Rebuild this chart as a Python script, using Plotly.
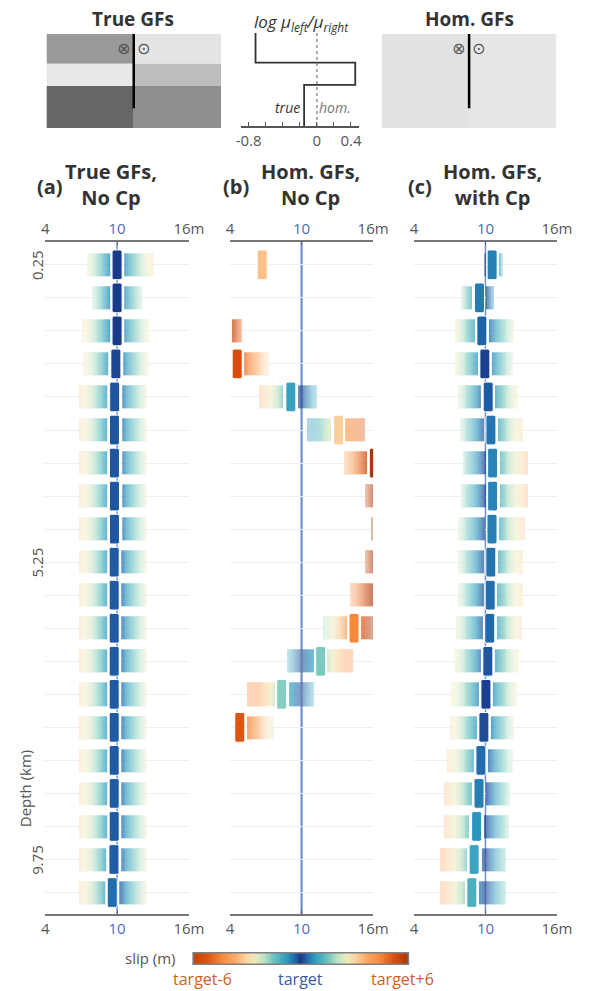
import numpy as np
import plotly.graph_objects as go

W, H = 591, 991
def px(x): return x / W
def py(y): return 1 - y / H

FONT = "Open Sans"
target = 10.0
n_rows = 20
rows = list(range(n_rows))
depth_tick_rows = [0, 9, 18]
depth_tick_text = ["0.25", "5.25", "9.75"]
x_tick_vals = [4, 10, 16]
x_tick_text = ["4", "<span style='color:#4a6cc0'>10</span>", "16m"]

# ---- panel (a) True GFs, No Cp : bar centre, outer box edges (m)
a_center = [10.0, 10.0, 10.0, 9.9, 9.8, 9.78, 9.78, 9.78, 9.78, 9.76,
            9.76, 9.76, 9.76, 9.76, 9.76, 9.76, 9.76, 9.76, 9.74, 9.6]
a_low = [7.49, 7.9, 7.16, 7.22, 6.85, 6.85, 6.85, 6.85, 6.85, 6.85,
         6.85, 6.85, 6.85, 6.85, 6.85, 6.85, 6.85, 6.85, 6.85, 6.85]
a_high = [13.0, 12.05, 12.72, 12.58, 12.4, 12.4, 12.4, 12.4, 12.4, 12.4,
          12.4, 12.4, 12.4, 12.4, 12.4, 12.4, 12.4, 12.4, 12.4, 12.4]

# ---- panel (b) Hom. GFs, No Cp
b_center = [6.7, None, 3.6, 4.6, 9.1, 13.1, 16.1, 17.0, 17.5, 17.0,
            17.0, 14.4, 11.6, 8.33, 4.82, None, None, None, None, None]
b_low = [None, None, None, None, 6.4, 10.46, 13.5, 15.4, 15.85, 15.4,
         14.1, 11.8, 8.8, 5.45, None, None, None, None, None, None]
b_high = [None, None, 5.0, 7.3, 11.3, 15.3, None, None, None, None,
          None, 16.3, 14.3, 11.0, 7.7, None, None, None, None, None]

# ---- panel (c) Hom. GFs, with Cp
c_center = [10.56, 9.5, 9.7, 9.95, 10.23, 10.46, 10.6, 10.6, 10.55, 10.45,
            10.4, 10.36, 10.2, 10.04, 9.87, 9.62, 9.46, 9.26, 9.05, 8.86]
c_low = [9.85, 7.9, 7.45, 7.48, 7.72, 7.88, 8.05, 7.9, 7.7, 7.7,
         7.7, 7.55, 7.4, 7.15, 7.07, 6.83, 6.5, 6.5, 6.2, 6.2]
c_high = [11.4, 10.7, 12.36, 12.33, 12.74, 13.14, 13.63, 13.6, 13.3, 13.1,
          13.1, 13.06, 12.8, 12.65, 12.4, 12.33, 12.1, 12.0, 11.7, 11.7]

# ---- top schematics
layer_top = [0, 4, 7]
layer_bot = [4, 7, 12.67]
fault_depth = 10
true_left_gray = ["#9a9a9a", "#e8e8e8", "#666666"]
true_right_gray = ["#e4e4e4", "#bdbdbd", "#8e8e8e"]
hom_gray = ["#e2e2e2", "#e6e6e6"]
log_ratio = [-0.72, 0.45, -0.15]
profile_ticks = [-0.8, 0, 0.4]
profile_ticktext = ["-0.8", "0", "0.4"]

# ---- colour scale (slip - target, m)
CS = [[0.0, "#c4420a"], [0.0667, "#dc5410"], [0.1333, "#f68a3c"], [0.2, "#fcac6c"],
      [0.2417, "#fcd09c"], [0.2833, "#eeecbc"], [0.3333, "#b8e0c4"], [0.375, "#6cc4bc"],
      [0.4333, "#2e9cc0"], [0.475, "#2062a8"], [0.5, "#1a3a8a"], [0.525, "#2062a8"],
      [0.5667, "#2e9cc0"], [0.625, "#6cc4bc"], [0.6667, "#b8e0c4"], [0.7167, "#eeecbc"],
      [0.7583, "#fcd09c"], [0.8, "#fcac6c"], [0.8667, "#f68a3c"], [0.9333, "#d85010"],
      [1.0, "#a8380a"]]
FADE = [[0, "rgba(255,255,255,0)"], [1, "rgba(255,255,255,0.55)"]]

xs = np.round(np.arange(4.04, 16.0, 0.08), 3)
GAP = 0.6
HALF = 0.42


def box_grids(center, low, high):
    zc, zf = [], []
    for c, lo, hi in zip(center, low, high):
        rc, rf = [], []
        for x in xs:
            v = None
            f = None
            if c is not None:
                if lo is not None and lo <= x <= c - GAP:
                    v = float(x - target)
                    f = float((c - GAP - x) / max(c - GAP - lo, 1e-6))
                elif hi is not None and c + GAP <= x <= hi:
                    v = float(x - target)
                    f = float((x - c - GAP) / max(hi - c - GAP, 1e-6))
            rc.append(v)
            rf.append(f)
        zc.append(rc)
        zf.append(rf)
    return zc, zf


fig = go.Figure()

panels = [
    (a_center, a_low, a_high, "x", "y", "x7", 41.7, 190.7, 1.5),
    (b_center, b_low, b_high, "x2", "y2", "x8", 233.3, 381.7, 2.2),
    (c_center, c_low, c_high, "x3", "y3", "x9", 424.0, 572.3, 1.5),
]

layout_axes = {}
shapes = []
for k, (cen, lo, hi, xa, ya, xtop, xl, xr, lw) in enumerate(panels):
    zc, zf = box_grids(cen, lo, hi)
    fig.add_trace(go.Heatmap(x=xs, y=rows, z=zc, colorscale=CS, zmin=-6, zmax=6,
                             showscale=False, opacity=0.72, ygap=10,
                             xaxis=xa, yaxis=ya, hoverinfo="skip"))
    fig.add_trace(go.Heatmap(x=xs, y=rows, z=zf, colorscale=FADE, zmin=0, zmax=1,
                             showscale=False, ygap=10,
                             xaxis=xa, yaxis=ya, hoverinfo="skip"))
    bi = [i for i, c in enumerate(cen) if c is not None]
    fig.add_trace(go.Bar(orientation="h", y=bi, x=[2 * HALF] * len(bi),
                         base=[cen[i] - HALF for i in bi], width=0.9,
                         marker=dict(color=[cen[i] - target for i in bi], colorscale=CS,
                                     cmin=-6, cmax=6, line=dict(color="white", width=1),
                                     cornerradius=2),
                         xaxis=xa, yaxis=ya, hoverinfo="skip"))
    fig.add_trace(go.Scatter(x=[10], y=[0], mode="markers", marker=dict(opacity=0),
                             xaxis=xtop, yaxis=ya, hoverinfo="skip"))
    dom = [px(xl), px(xr)]
    xbase = dict(domain=dom, range=[4, 16], tickvals=x_tick_vals, ticktext=x_tick_text,
                 ticks="inside", ticklen=4, tickwidth=1.2, tickcolor="#666",
                 showline=True, linecolor="#777", linewidth=1.5, showgrid=False,
                 zeroline=False, tickfont=dict(family=FONT, size=15, color="#555"),
                 fixedrange=True)
    n = "" if k == 0 else str(k + 1)
    layout_axes["xaxis" + n] = dict(xbase, anchor=ya, side="bottom")
    layout_axes["xaxis" + xtop[1:]] = dict(xbase, anchor=ya, side="top", overlaying=xa)
    layout_axes["yaxis" + n] = dict(domain=[py(914), py(241.7)], range=[19.65, -0.7],
                                    anchor=xa, tickvals=rows, showticklabels=False,
                                    showgrid=True, gridcolor="#eceef6", gridwidth=1,
                                    zeroline=False, ticks="", showline=False,
                                    fixedrange=True)
    shapes.append(dict(type="line", xref=xa, yref=ya, x0=10, x1=10, y0=-0.7, y1=19.65,
                       line=dict(color="#6e8ed0", width=lw), layer="below"))

# ---- top: true GFs block
for t, b, gl, gr in zip(layer_top, layer_bot, true_left_gray, true_right_gray):
    shapes.append(dict(type="rect", xref="x4", yref="y4", x0=-1, x1=0, y0=t, y1=b,
                       fillcolor=gl, line=dict(width=0), layer="below"))
    shapes.append(dict(type="rect", xref="x4", yref="y4", x0=0, x1=1, y0=t, y1=b,
                       fillcolor=gr, line=dict(width=0), layer="below"))
shapes.append(dict(type="line", xref="x4", yref="y4", x0=0, x1=0, y0=0, y1=fault_depth,
                   line=dict(color="black", width=2.5)))
# hom block
shapes.append(dict(type="rect", xref="x6", yref="y6", x0=-1, x1=0, y0=0, y1=layer_bot[-1],
                   fillcolor=hom_gray[0], line=dict(width=0), layer="below"))
shapes.append(dict(type="rect", xref="x6", yref="y6", x0=0, x1=1, y0=0, y1=layer_bot[-1],
                   fillcolor=hom_gray[1], line=dict(width=0), layer="below"))
shapes.append(dict(type="line", xref="x6", yref="y6", x0=0, x1=0, y0=0, y1=fault_depth,
                   line=dict(color="black", width=2.5)))

# profile
prof_x, prof_y = [], []
for t, b, r in zip(layer_top, layer_bot, log_ratio):
    prof_x += [r, r]
    prof_y += [t, min(b, 12.53)]
fig.add_trace(go.Scatter(x=prof_x, y=prof_y, mode="lines", line=dict(color="#333", width=1.8),
                         xaxis="x5", yaxis="y5", hoverinfo="skip"))
fig.add_trace(go.Scatter(x=[0, 0], y=[0, 12.53], mode="lines",
                         line=dict(color="#888", width=1.4, dash="3px,3px"),
                         xaxis="x5", yaxis="y5", hoverinfo="skip"))
for ax in ["4", "6"]:
    fig.add_trace(go.Scatter(x=[0], y=[0], mode="markers", marker=dict(opacity=0),
                             xaxis="x" + ax, yaxis="y" + ax, hoverinfo="skip"))

hidden = dict(visible=False, fixedrange=True)
layout_axes["xaxis4"] = dict(hidden, domain=[px(43), px(224)], range=[-1, 1], anchor="y4")
layout_axes["yaxis4"] = dict(hidden, domain=[py(128), py(34)], range=[12.67, 0], anchor="x4")
layout_axes["xaxis6"] = dict(hidden, domain=[px(390.7), px(571.7)], range=[-1, 1], anchor="y6")
layout_axes["yaxis6"] = dict(hidden, domain=[py(128), py(34)], range=[12.67, 0], anchor="x6")
layout_axes["xaxis5"] = dict(domain=[px(245), px(366.7)], range=[-0.887, 0.49], anchor="y5",
                             tickvals=profile_ticks, ticktext=profile_ticktext,
                             ticks="inside", ticklen=4, tickcolor="#555", tickwidth=1.2,
                             minor=dict(tick0=0, dtick=0.2, ticks="inside", ticklen=4,
                                        tickcolor="#555", tickwidth=1.2, showgrid=False),
                             showline=True, linecolor="#555", linewidth=1.5,
                             showgrid=False, zeroline=False, fixedrange=True,
                             tickfont=dict(family=FONT, size=15, color="#555"))
layout_axes["yaxis5"] = dict(hidden, domain=[py(126), py(33)], range=[12.53, 0], anchor="x5")

# ---- colour bar
cb_x = np.linspace(-6, 6, 241)
fig.add_trace(go.Heatmap(x=cb_x, y=[0], z=[list(cb_x)], colorscale=CS, zmin=-6, zmax=6,
                         showscale=False, xaxis="x10", yaxis="y10", hoverinfo="skip"))
layout_axes["xaxis10"] = dict(hidden, domain=[px(195), px(418.3)], range=[-6, 6], anchor="y10")
layout_axes["yaxis10"] = dict(hidden, domain=[py(964.3), py(952.7)], range=[-0.5, 0.5], anchor="x10")
shapes.append(dict(type="rect", xref="paper", yref="paper", x0=px(195), x1=px(418.3),
                   y0=py(964.3), y1=py(952.7), line=dict(color="#808080", width=1.5)))
shapes.append(dict(type="line", xref="x10", yref="paper", x0=0, x1=0, y0=py(963.5), y1=py(958),
                   line=dict(color="#333", width=1)))

# ---- annotations
ann = []
def A(text, x, y, size=15, color="#555", xanchor="center", yanchor="middle", **kw):
    ann.append(dict(text=text, x=x, y=y, xref=kw.pop("xref", "paper"), yref=kw.pop("yref", "paper"),
                    showarrow=False, xanchor=xanchor, yanchor=yanchor,
                    font=dict(family=FONT, size=size, color=color), **kw))

A("<b>True GFs</b>", px(133), py(19), size=19, color="#333")
A("<b>Hom. GFs</b>", px(482), py(19), size=19, color="#333")
A("<i>log μ<sub>left</sub>/μ<sub>right</sub></i>", px(307), py(22), size=17, color="#333")
A("<i>true</i>", px(293), py(108), size=14, color="#333")
A("<i>hom.</i>", px(342), py(108), size=14, color="#777")
for xx, yy, s in [(-0.113, 2.0, "⊗"), (0.108, 2.0, "⊙")]:
    ann.append(dict(text=s, x=xx, y=yy, xref="x4", yref="y4", showarrow=False,
                    font=dict(family="DejaVu Sans", size=16, color="#555")))
for xx, yy, s in [(-0.116, 2.0, "⊗"), (0.108, 2.0, "⊙")]:
    ann.append(dict(text=s, x=xx, y=yy, xref="x6", yref="y6", showarrow=False,
                    font=dict(family="DejaVu Sans", size=16, color="#555")))

titles = [("(a)", 47, "True GFs,<br>No Cp", 110), ("(b)", 239, "Hom. GFs,<br>No Cp", 317),
          ("(c)", 430, "Hom. GFs,<br>with Cp", 505)]
for lab, lx, t, tx in titles:
    A("<b>" + lab + "</b>", px(lx), py(187), size=20, color="#333")
    A("<b>" + t.replace("<br>", "</b><br><b>") + "</b>", px(tx), py(185), size=20, color="#333")

for r, t in zip(depth_tick_rows, depth_tick_text):
    ann.append(dict(text=t, x=px(21), y=r, xref="paper", yref="y", showarrow=False,
                    textangle=-90, font=dict(family=FONT, size=15, color="#555")))
A("Depth (km)", px(21), py(788), size=15, color="#555", textangle=-90)

A("slip (m)", px(179), py(958), size=15, color="#555", xanchor="right")
A("target-6", px(205), py(979), size=16, color="#d0601e", borderpad=0)
A("target", px(306.7), py(979), size=16, color="#3a5aa8", borderpad=0)
A("target+6", px(412), py(979), size=16, color="#d0601e", borderpad=0)

fig.update_layout(width=W, height=H, margin=dict(l=0, r=0, t=0, b=0),
                  plot_bgcolor="white", paper_bgcolor="white", showlegend=False,
                  barmode="overlay", shapes=shapes, annotations=ann,
                  font=dict(family=FONT), **layout_axes)

fig.write_html("out.html")
